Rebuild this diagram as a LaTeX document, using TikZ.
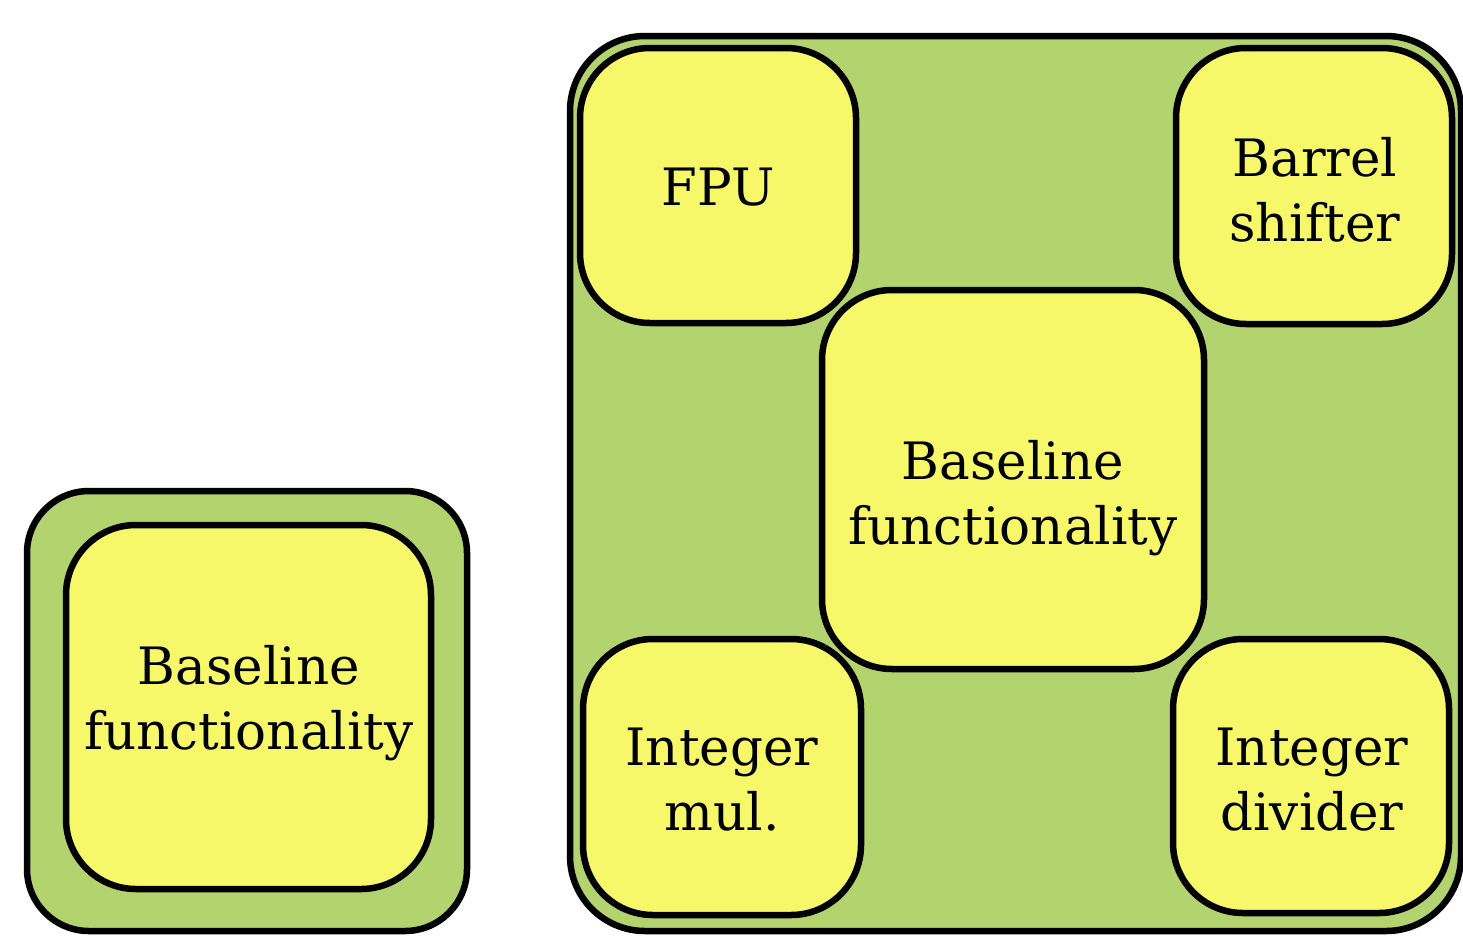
\documentclass[tikz,border=0pt]{standalone}
\usepackage{fontspec}
\setmainfont{DejaVu Serif}
\definecolor{boxgreen}{RGB}{179,211,110}
\definecolor{boxyellow}{RGB}{247,247,106}
\tikzset{
  outerbox/.style={draw=black, line width=6.5pt, fill=boxgreen, rectangle, inner sep=0pt},
  unitbox/.style={draw=black, line width=6.5pt, fill=boxyellow, rectangle, inner sep=0pt},
  lbl/.style={align=center, font=\fontsize{51.5}{65}\selectfont, inner sep=0pt}
}
\begin{document}
\begin{tikzpicture}[x=1pt,y=-1pt]
\useasboundingbox (0,0) rectangle (1463,937);
% left group
\node[outerbox, minimum width=440pt, minimum height=440pt, rounded corners=62pt] (lout) at (247,711) {};
\node[unitbox, minimum width=365pt, minimum height=364pt, rounded corners=70pt] (lbase) at (248.5,707) {};
\node[lbl] (lbasetext) at (249,703) {Baseline\\functionality};
% right group
\node[outerbox, minimum width=891pt, minimum height=895pt, rounded corners=75pt] (rout) at (1015.5,483.5) {};
\node[unitbox, minimum width=276pt, minimum height=275pt, rounded corners=70pt] (fpu) at (718,185.5) {};
\node[lbl] (fputext) at (718,187) {FPU};
\node[unitbox, minimum width=276pt, minimum height=276pt, rounded corners=70pt] (barrel) at (1314,186) {};
\node[lbl] (barreltext) at (1315,190) {Barrel\\shifter};
\node[unitbox, minimum width=382pt, minimum height=379pt, rounded corners=70pt] (rbase) at (1013,479.5) {};
\node[lbl] (rbasetext) at (1013,498) {Baseline\\functionality};
\node[unitbox, minimum width=278pt, minimum height=276pt, rounded corners=70pt] (imul) at (722,777) {};
\node[lbl] (imultext) at (722,780) {Integer\\mul.};
\node[unitbox, minimum width=276pt, minimum height=274pt, rounded corners=70pt] (idiv) at (1311,776) {};
\node[lbl] (idivtext) at (1312,780) {Integer\\divider};
\end{tikzpicture}
\end{document}
